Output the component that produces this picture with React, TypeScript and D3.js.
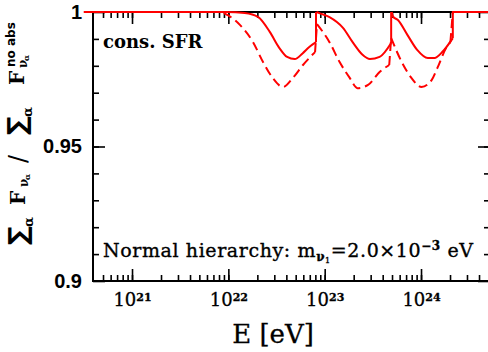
import React, { useRef, useEffect } from 'react';
import * as d3 from 'd3';

// x: log10(E / eV), y: ratio of summed fluxes
const solidDip1 = [
  [20.5, 1], [21.98, 1], [22.17, 0.9996], [22.31, 0.9981], [22.43, 0.9926], [22.53, 0.9866],
  [22.61, 0.9833], [22.69, 0.9825], [22.77, 0.9846], [22.84, 0.987], [22.91, 0.9888],
];
const solidDip2 = [
  [22.915, 1], [22.95, 0.9995], [23.05, 0.9981], [23.19, 0.9941], [23.29, 0.9888], [23.39, 0.9842],
  [23.47, 0.9825], [23.57, 0.9833], [23.69, 0.9885],
];
const solidDip3 = [
  [23.695, 1], [23.71, 0.9983], [23.76, 0.997], [23.86, 0.9914], [23.96, 0.9859], [24.07, 0.9829],
  [24.14, 0.9829], [24.22, 0.9851], [24.33, 0.9903],
];
const solidTail = [[24.33, 1], [24.8, 1]];

const dashedDip1 = [
  [20.5, 1], [21.91, 1], [21.99, 0.9989], [22.12, 0.9952], [22.256, 0.9888], [22.36, 0.9814],
  [22.46, 0.9755], [22.567, 0.9721], [22.67, 0.9755], [22.775, 0.9803], [22.9, 0.9851],
];
const dashedDip2 = [
  [22.92, 0.9955], [23.05, 0.9888], [23.155, 0.9814], [23.26, 0.9755], [23.34, 0.9717],
  [23.45, 0.9729], [23.57, 0.9777], [23.67, 0.9803],
];
const dashedDip3 = [
  [23.69, 0.9903], [23.8, 0.9814], [23.9, 0.9755], [24.005, 0.9721], [24.11, 0.9747],
  [24.17, 0.9792], [24.26, 0.9866], [24.305, 0.9888],
];

const majorE = [1e21, 1e22, 1e23, 1e24];
const minorE = d3.range(20, 25).flatMap(n => d3.range(1, 10).map(k => k * 10 ** n));
const majorY = [0.9, 0.95, 1];
const minorY = d3.range(91, 100).map(v => v / 100);

const App = () => {
  const svgRef = useRef(null);
  const width = 488;
  const height = 352;
  const margin = { top: 12, right: -2, bottom: 71, left: 93 };

  useEffect(() => {
    const svg = d3.select(svgRef.current);
    svg.selectAll('*').remove();

    const x = d3.scaleLog()
      .domain([10 ** 20.595, 10 ** 24.716])
      .range([margin.left, width - margin.right]);
    const y = d3.scaleLinear()
      .domain([0.9, 1])
      .range([height - margin.bottom, margin.top]);
    const yb = height - margin.bottom;
    const xr = width - margin.right;

    const minorOnly = (g, axis) => {
      g.call(axis);
      g.select('.domain').remove();
      g.selectAll('line').attr('stroke-width', 1.6);
    };
    const inside = minorE.filter(v => x(v) > margin.left + 1 && x(v) < xr);

    // x ticks, bottom and top
    minorOnly(svg.append('g').attr('transform', `translate(0,${yb})`),
      d3.axisBottom(x).tickValues(inside).tickSize(-6).tickFormat(() => ''));
    minorOnly(svg.append('g').attr('transform', `translate(0,${margin.top})`),
      d3.axisTop(x).tickValues(inside).tickSize(-6).tickFormat(() => ''));
    minorOnly(svg.append('g').attr('transform', `translate(0,${margin.top})`),
      d3.axisTop(x).tickValues(majorE).tickSize(-12).tickFormat(() => ''));

    const bottomMajor = svg.append('g').attr('transform', `translate(0,${yb})`);
    minorOnly(bottomMajor, d3.axisBottom(x).tickValues(majorE).tickSize(-12).tickPadding(12));
    bottomMajor.selectAll('text')
      .attr('font-family', 'DejaVu Serif')
      .attr('font-size', 18)
      .attr('fill', '#000')
      .attr('stroke', '#000')
      .attr('stroke-width', 0.3)
      .each(function (d) {
        const t = d3.select(this);
        t.text('10');
        t.append('tspan')
          .attr('font-size', 11)
          .attr('font-weight', 'bold')
          .attr('dy', '-0.45em')
          .text(String(Math.round(Math.log10(d))));
      });

    // y ticks, left and right
    minorOnly(svg.append('g').attr('transform', `translate(${margin.left},0)`),
      d3.axisLeft(y).tickValues(minorY).tickSize(-6).tickFormat(() => ''));
    minorOnly(svg.append('g').attr('transform', `translate(${xr},0)`),
      d3.axisRight(y).tickValues(minorY).tickSize(-6).tickFormat(() => ''));
    minorOnly(svg.append('g').attr('transform', `translate(${xr},0)`),
      d3.axisRight(y).tickValues(majorY).tickSize(-12).tickFormat(() => ''));
    const leftMajor = svg.append('g').attr('transform', `translate(${margin.left},0)`);
    minorOnly(leftMajor, d3.axisLeft(y).tickValues(majorY).tickSize(-12).tickPadding(11).tickFormat(d3.format('')));
    leftMajor.selectAll('text')
      .attr('font-family', 'Liberation Sans, Arial, sans-serif')
      .attr('font-weight', 'bold')
      .attr('font-size', 20)
      .attr('fill', '#000');

    // frame
    svg.append('rect')
      .attr('x', margin.left)
      .attr('y', margin.top)
      .attr('width', xr - margin.left)
      .attr('height', yb - margin.top)
      .attr('fill', 'none')
      .attr('stroke', '#000')
      .attr('stroke-width', 2);

    // curves
    const line = d3.line()
      .x(d => x(10 ** d[0]))
      .y(d => y(d[1]))
      .curve(d3.curveMonotoneX);
    const straight = d3.line()
      .x(d => x(10 ** d[0]))
      .y(d => y(d[1]));

    const plot = svg.append('g');
    const drawPath = (dStr, dashed) => {
      plot.append('path')
        .attr('d', dStr)
        .attr('fill', 'none')
        .attr('stroke', '#f00')
        .attr('stroke-width', 2)
        .attr('stroke-dasharray', dashed ? '9,5' : null);
    };
    const last = seg => seg[seg.length - 1];

    // dashed first so the solid sits on top
    [dashedDip1, dashedDip2, dashedDip3].forEach(seg => drawPath(line(seg), true));
    drawPath(straight([last(dashedDip1), dashedDip2[0]]), true);
    drawPath(straight([last(dashedDip2), dashedDip3[0]]), true);
    drawPath(straight([last(dashedDip3), solidTail[0]]), true);

    [solidDip1, solidDip2, solidDip3].forEach(seg => drawPath(line(seg), false));
    drawPath(straight([last(solidDip1), [last(solidDip1)[0], 1]]), false);
    drawPath(straight([last(solidDip2), [last(solidDip2)[0], 1]]), false);
    drawPath(straight([last(solidDip3), ...solidTail]), false);

    // annotations
    svg.append('text')
      .attr('x', 103)
      .attr('y', 48)
      .attr('font-family', 'DejaVu Serif')
      .attr('font-weight', 'bold')
      .attr('font-size', 18)
      .text('cons. SFR');

    const note = svg.append('text')
      .attr('x', 103)
      .attr('y', 257)
      .attr('font-family', 'DejaVu Serif')
      .attr('font-size', 19)
      .attr('letter-spacing', 0.6)
      .attr('stroke', '#000')
      .attr('stroke-width', 0.35);
    note.append('tspan').text('Normal hierarchy: m');
    note.append('tspan').attr('font-size', 12).attr('font-weight', 'bold').attr('dy', 4).text('ν');
    note.append('tspan').attr('font-size', 8).attr('dy', 2).text('1');
    note.append('tspan').attr('dy', -6).text('=2.0×10');
    note.append('tspan').attr('font-size', 12).attr('font-weight', 'bold').attr('dy', -7).text('−3');
    note.append('tspan').attr('dy', 7).text(' eV');

    svg.append('text')
      .attr('x', 273)
      .attr('y', 343)
      .attr('text-anchor', 'middle')
      .attr('font-family', 'DejaVu Serif')
      .attr('font-size', 26)
      .attr('stroke', '#000')
      .attr('stroke-width', 0.3)
      .text('E [eV]');

    // y label, rotated
    const yl = svg.append('text')
      .attr('transform', 'translate(25,245) rotate(-90)')
      .attr('font-family', 'DejaVu Serif')
      .attr('font-weight', 'bold');
    yl.append('tspan').attr('x', 0).attr('font-family', 'DejaVu Sans').attr('font-size', 26).attr('dy', 2).text('∑');
    yl.append('tspan').attr('x', 18).attr('font-size', 13).attr('dy', 6).text('α');
    yl.append('tspan').attr('x', 40).attr('font-size', 20).attr('dy', -8).text('F');
    yl.append('tspan').attr('x', 58).attr('font-size', 12).attr('dy', 3).text('ν');
    yl.append('tspan').attr('x', 65).attr('font-size', 8).attr('dy', 2).text('α');
    yl.append('tspan').attr('x', 82).attr('font-family', 'DejaVu Sans').attr('font-weight', 'normal').attr('font-size', 24).attr('dy', -4).text('/');
    yl.append('tspan').attr('x', 110).attr('font-family', 'DejaVu Sans').attr('font-size', 26).attr('dy', 0).text('∑');
    yl.append('tspan').attr('x', 128).attr('font-size', 13).attr('dy', 6).text('α');
    yl.append('tspan').attr('x', 160).attr('font-size', 20).attr('dy', -8).text('F');
    yl.append('tspan').attr('x', 177).attr('font-size', 12).attr('dy', 3).text('ν');
    yl.append('tspan').attr('x', 184).attr('font-size', 8).attr('dy', 2).text('α');
    yl.append('tspan').attr('x', 178).attr('font-family', 'DejaVu Sans').attr('font-size', 12).attr('dy', -14).text('no abs');
  }, []);

  return <svg ref={svgRef} width={width} height={height} style={{ position: 'absolute', left: 0, top: 0 }}></svg>;
};

export default App;
